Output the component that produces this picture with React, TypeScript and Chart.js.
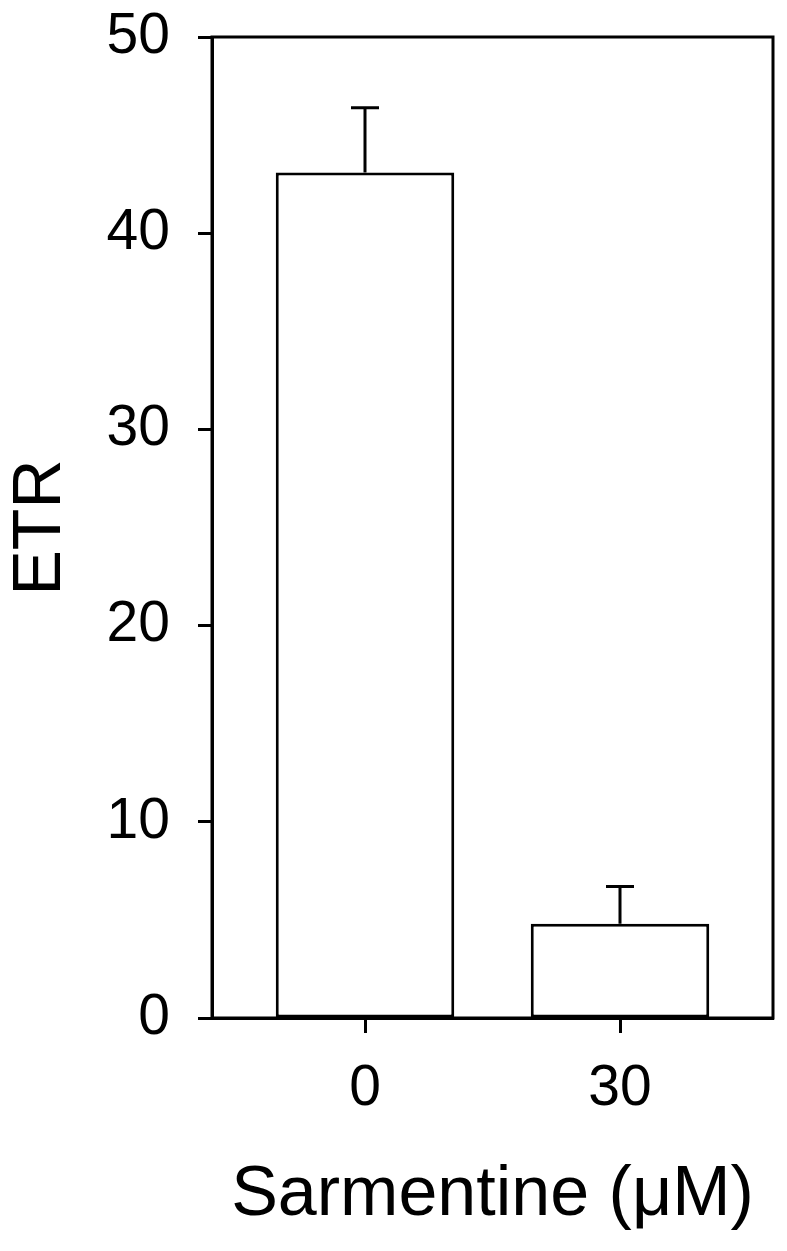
import React, { useEffect, useRef } from "react";
import { Chart, registerables } from "chart.js";

Chart.register(...registerables);

const categories = ["0", "30"];
const positions = [0, 1];
const etrValues = [43.1, 4.8];
const etrErrors = [3.3, 1.9];
const yTicks = [0, 10, 20, 30, 40, 50];

const FONT = "'Liberation Sans', Arial, sans-serif";

const framePlugin = {
  id: "frame",
  afterDraw(chart: any) {
    const { ctx, chartArea } = chart;
    ctx.save();
    ctx.strokeStyle = "#000";
    ctx.lineWidth = 3;
    ctx.beginPath();
    ctx.moveTo(chartArea.left, chartArea.bottom);
    ctx.lineTo(chartArea.left, chartArea.top);
    ctx.lineTo(chartArea.right, chartArea.top);
    ctx.lineTo(chartArea.right, chartArea.bottom);
    ctx.lineTo(chartArea.left, chartArea.bottom);
    ctx.stroke();
    ctx.restore();
  },
};

const errorBarPlugin = {
  id: "errorBars",
  afterDatasetsDraw(chart: any) {
    const { ctx } = chart;
    const yScale = chart.scales.y;
    const meta = chart.getDatasetMeta(0);
    ctx.save();
    ctx.strokeStyle = "#000";
    ctx.lineWidth = 3;
    meta.data.forEach((bar: any, i: number) => {
      const top = yScale.getPixelForValue(etrValues[i]);
      const errTop = yScale.getPixelForValue(etrValues[i] + etrErrors[i]);
      const x = bar.x;
      const half = 14;
      ctx.beginPath();
      ctx.moveTo(x, top);
      ctx.lineTo(x, errTop);
      ctx.moveTo(x - half, errTop);
      ctx.lineTo(x + half, errTop);
      ctx.stroke();
    });
    ctx.restore();
  },
};

export default function App() {
  const canvasRef = useRef<HTMLCanvasElement | null>(null);

  useEffect(() => {
    if (!canvasRef.current) return;
    const chart = new Chart(canvasRef.current, {
      type: "bar",
      data: {
        datasets: [
          {
            label: "ETR",
            data: positions.map((p, i) => ({ x: p, y: etrValues[i] })),
            backgroundColor: "#ffffff",
            borderColor: "#000000",
            borderWidth: 3,
            borderSkipped: false,
            barPercentage: 0.7,
            categoryPercentage: 1,
          },
        ],
      },
      options: {
        animation: false,
        responsive: false,
        devicePixelRatio: 1,
        layout: { padding: { left: 0, right: 14, top: 37, bottom: 0 } },
        plugins: {
          legend: { display: false },
          tooltip: { enabled: false },
        },
        scales: {
          x: {
            type: "linear",
            offset: false,
            min: -0.6,
            max: 1.6,
            afterBuildTicks: (scale: any) => {
              scale.ticks = positions.map((v) => ({ value: v }));
            },
            afterFit: (scale: any) => {
              scale.height = 233;
              scale.paddingLeft = 0;
              scale.paddingRight = 0;
            },
            ticks: {
              callback: (v: any) => {
                const idx = positions.indexOf(Number(v));
                return idx >= 0 ? categories[idx] : "";
              },
              color: "#000",
              font: { family: FONT, size: 57 },
              padding: 22,
              maxRotation: 0,
              autoSkip: false,
            },
            grid: {
              offset: false,
              drawOnChartArea: false,
              drawTicks: true,
              tickLength: 15,
              tickWidth: 3,
              tickColor: "#000",
            },
            border: { display: true, color: "#000", width: 3 },
            title: {
              display: true,
              text: "Sarmentine (\u03bcM)",
              color: "#000",
              font: { family: FONT, size: 70 },
              padding: { top: 0, bottom: 13 },
            },
          },
          y: {
            min: 0,
            max: 50,
            afterBuildTicks: (scale: any) => {
              scale.ticks = yTicks.map((v) => ({ value: v }));
            },
            afterFit: (scale: any) => {
              scale.width = 212;
              scale.paddingTop = 0;
              scale.paddingBottom = 0;
            },
            ticks: {
              color: "#000",
              font: { family: FONT, size: 57 },
              padding: 28,
            },
            grid: {
              drawOnChartArea: false,
              drawTicks: true,
              tickLength: 14,
              tickWidth: 3,
              tickColor: "#000",
            },
            border: { display: true, color: "#000", width: 3 },
            title: {
              display: true,
              text: "ETR",
              color: "#000",
              font: { family: FONT, size: 68 },
              padding: { top: 0, bottom: 0 },
            },
          },
        },
      },
      plugins: [framePlugin, errorBarPlugin],
    } as any);
    return () => chart.destroy();
  }, []);

  return (
    <div style={{ position: "absolute", left: 0, top: 0, width: 787, height: 1251, background: "#fff" }}>
      <canvas ref={canvasRef} width={787} height={1251} style={{ width: 787, height: 1251 }} />
    </div>
  );
}
